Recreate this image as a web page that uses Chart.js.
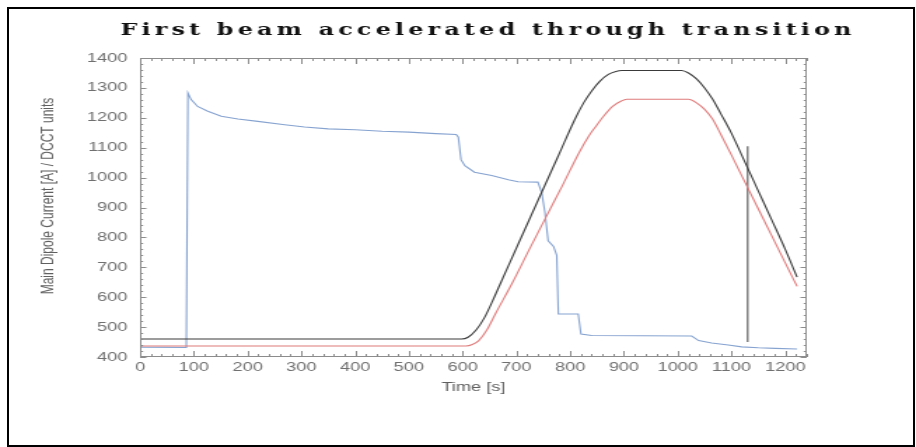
<!DOCTYPE html>
<html>
<head>
<meta charset="utf-8">
<title>First beam accelerated through transition</title>
<script src="https://cdn.jsdelivr.net/npm/chart.js@4.4.1/dist/chart.umd.min.js"></script>
<style>
  body { margin: 0; background: #fff; }
  #wrap { position: relative; width: 916px; height: 447px; overflow: hidden; background: #fff; }
  #frame { position: absolute; left: 7px; top: 7px; width: 908px; height: 440px; border: 2px solid #000; box-sizing: border-box; pointer-events: none; }
  /* the original picture is stretched sideways, so the chart is drawn narrow and widened */
  #beamChart { position: absolute; left: 0; top: 0; transform: scaleX(1.4006); transform-origin: 0 0; }
</style>
</head>
<body>
<div id="wrap">
  <canvas id="beamChart" width="654" height="447"></canvas>
  <div id="frame"></div>
</div>
<script>
const chartTitle = 'First beam accelerated through transition';
const xTitle = 'Time [s]';
const yTitle = 'Main Dipole Current [A] / DCCT units';

const xTicks = [0, 100, 200, 300, 400, 500, 600, 700, 800, 900, 1000, 1100, 1200];
const yTicks = [400, 500, 600, 700, 800, 900, 1000, 1100, 1200, 1300, 1400];

// main dipole current (black)
const dipoleTime = [0, 598, 610, 625, 640, 655, 670, 685, 716, 747, 778, 809, 825, 840, 855, 871, 885, 896,
  1007, 1020, 1035, 1050, 1065, 1080, 1100, 1125, 1150, 1175, 1200, 1222];
const dipoleCurrent = [460, 460, 466, 490, 530, 585, 645, 705, 828, 951, 1073, 1196, 1250, 1290, 1322, 1345, 1355, 1358,
  1358, 1350, 1330, 1300, 1262, 1214, 1148, 1052, 955, 858, 760, 667];

// second current trace (red)
const refTime = [0, 606, 618, 630, 645, 662, 693, 724, 755, 786, 817, 835, 848, 862, 879, 895, 905,
  1020, 1035, 1050, 1065, 1080, 1100, 1125, 1150, 1175, 1200, 1222];
const refCurrent = [437, 437, 442, 455, 490, 548, 650, 760, 868, 975, 1085, 1140, 1172, 1205, 1238, 1256, 1262,
  1262, 1250, 1228, 1195, 1145, 1075, 985, 895, 805, 715, 636];

// beam intensity, DCCT (blue)
const dcctTime = [0, 3, 86, 89, 95, 107, 126, 151, 182, 219, 269, 306, 350, 400, 450, 500, 550, 588, 592, 597,
  604, 622, 654, 685, 703, 740, 747, 753, 759, 769, 775, 778, 815, 820, 840, 1026, 1039, 1063, 1094, 1119,
  1150, 1181, 1222];
const dcctValue = [440, 433, 432, 1283, 1261, 1238, 1222, 1205, 1196, 1188, 1177, 1169, 1163, 1160, 1155, 1152, 1147, 1144, 1135, 1060,
  1040, 1018, 1007, 993, 986, 985, 950, 884, 789, 770, 740, 544, 544, 477, 472, 470, 455, 447, 440, 434,
  431, 429, 427];

// vertical marker
const markerTime = [1130, 1130];
const markerValue = [450, 1105];

function toPoints(xs, ys) {
  return xs.map((x, i) => ({ x: x, y: ys[i] }));
}

const labelFont = { family: '"Liberation Sans", Arial, sans-serif', size: 13 };

// box round the plot with inward ticks on all four sides, plus the titles
const frameTicks = {
  id: 'frameTicks',
  afterDatasetsDraw(chart) {
    const { ctx, chartArea: a, scales: { x, y } } = chart;
    ctx.save();
    ctx.strokeStyle = '#8c8c8c';
    ctx.lineWidth = 1;
    ctx.strokeRect(a.left + 0.5, a.top + 0.5, a.right - a.left - 1, a.bottom - a.top - 1);
    ctx.beginPath();
    for (let v = 0; v <= x.max; v += 20) {
      const px = Math.round(x.getPixelForValue(v)) + 0.5;
      const len = v % 100 === 0 ? 6 : 3;
      ctx.moveTo(px, a.bottom); ctx.lineTo(px, a.bottom - len);
      ctx.moveTo(px, a.top); ctx.lineTo(px, a.top + len);
    }
    for (let v = y.min; v <= y.max; v += 20) {
      const py = Math.round(y.getPixelForValue(v)) + 0.5;
      const len = v % 100 === 0 ? 4.5 : 2.2;
      ctx.moveTo(a.left, py); ctx.lineTo(a.left + len, py);
      ctx.moveTo(a.right, py); ctx.lineTo(a.right - len, py);
    }
    ctx.stroke();

    ctx.fillStyle = '#111';
    ctx.font = 'bold 17px "DejaVu Serif", serif';
    ctx.letterSpacing = '3px';
    ctx.textAlign = 'center';
    ctx.textBaseline = 'middle';
    ctx.fillText(chartTitle, 348.5, 31);

    // axis title sits a little above the middle of the plot, as in the original
    ctx.letterSpacing = '0px';
    ctx.fillStyle = '#606060';
    ctx.font = '12px "Liberation Sans", Arial, sans-serif';
    ctx.translate(35, 196);
    ctx.rotate(-Math.PI / 2);
    ctx.fillText(yTitle, 0, 0);
    ctx.restore();
  }
};

new Chart(document.getElementById('beamChart'), {
  type: 'line',
  data: {
    datasets: [
      {
        label: 'Dipole current',
        data: toPoints(dipoleTime, dipoleCurrent),
        borderColor: '#3a3a3a',
        borderWidth: 1.1,
        cubicInterpolationMode: 'monotone'
      },
      {
        label: 'Second current',
        data: toPoints(refTime, refCurrent),
        borderColor: '#e07b7b',
        borderWidth: 1.1,
        cubicInterpolationMode: 'monotone'
      },
      {
        label: 'DCCT',
        data: toPoints(dcctTime, dcctValue),
        borderColor: '#86a3d0',
        borderWidth: 1.1,
        tension: 0
      },
      {
        label: 'Marker',
        data: toPoints(markerTime, markerValue),
        borderColor: '#777777',
        borderWidth: 1.4
      }
    ]
  },
  options: {
    responsive: false,
    animation: false,
    devicePixelRatio: 1,
    layout: { padding: { top: 58, right: 78, left: 0, bottom: 0 } },
    elements: { point: { radius: 0 } },
    plugins: {
      legend: { display: false },
      tooltip: { enabled: false },
      title: { display: false }
    },
    scales: {
      x: {
        type: 'linear',
        min: 0,
        max: 1240,
        afterBuildTicks: s => { s.ticks = xTicks.map(v => ({ value: v })); },
        afterFit: s => { s.height = 90; },
        grid: { display: false, drawTicks: false },
        border: { display: false },
        ticks: { color: '#707070', font: labelFont, padding: 3, maxRotation: 0, autoSkip: false, callback: v => String(v) },
        title: { display: true, text: xTitle, color: '#606060', font: labelFont, padding: { top: 0, bottom: 52 } }
      },
      y: {
        type: 'linear',
        min: 400,
        max: 1400,
        afterBuildTicks: s => { s.ticks = yTicks.map(v => ({ value: v })); },
        afterFit: s => { s.width = 100; },
        grid: { display: false, drawTicks: false },
        border: { display: false },
        ticks: { color: '#707070', font: labelFont, padding: 9, autoSkip: false, callback: v => String(v) },
        title: { display: false }
      }
    }
  },
  plugins: [frameTicks]
});
</script>
</body>
</html>
